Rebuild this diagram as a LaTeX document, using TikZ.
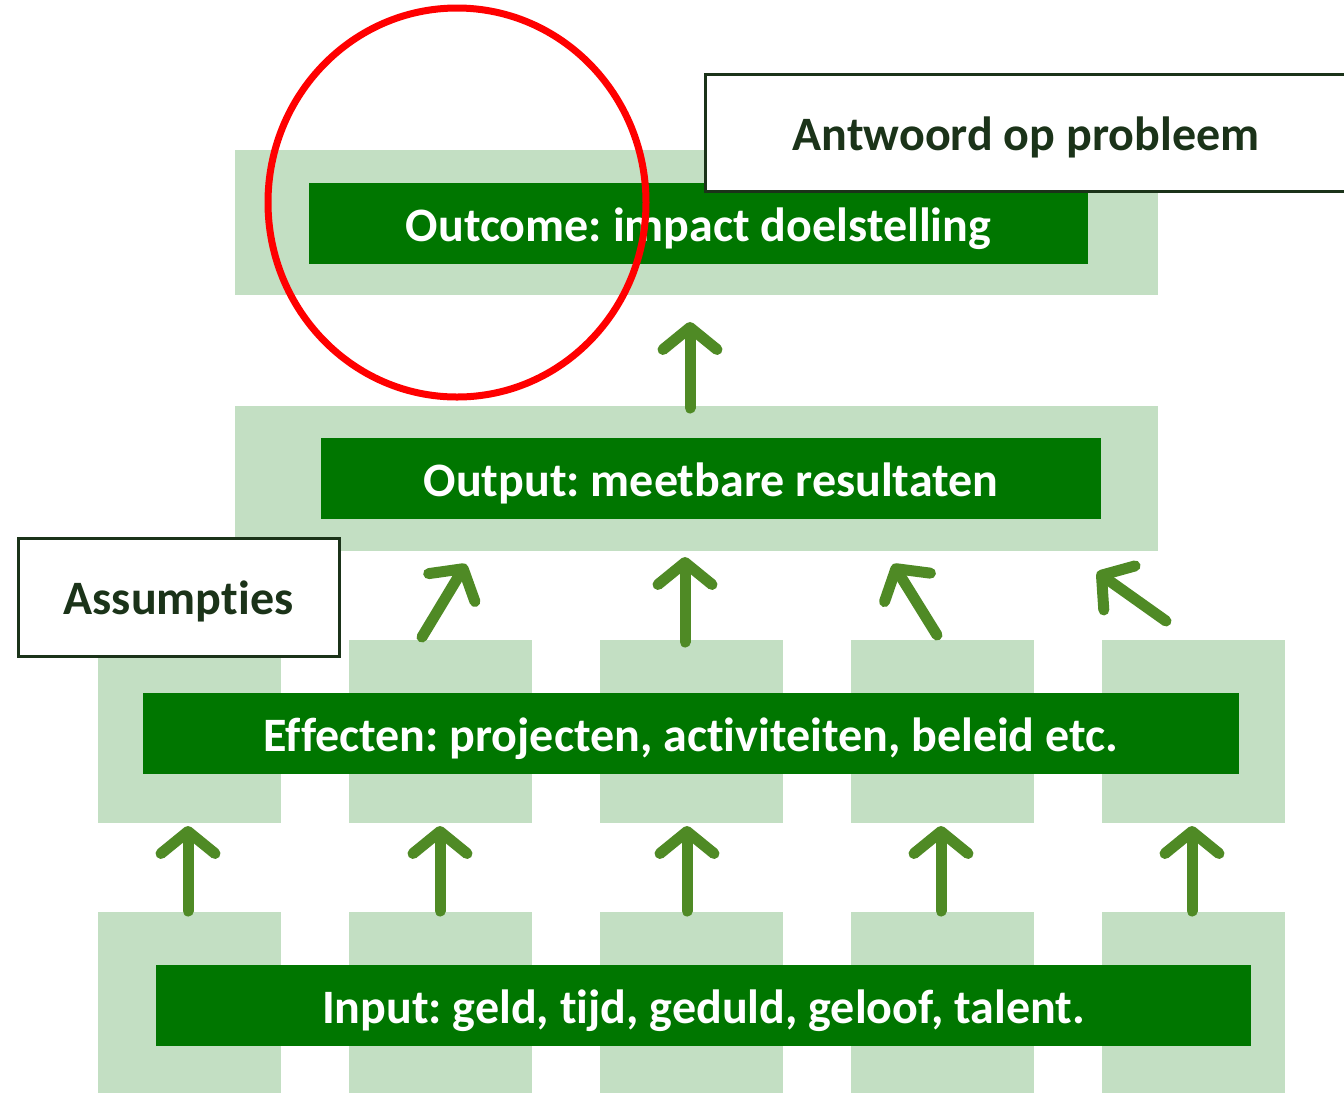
\documentclass[tikz,border=0pt]{standalone}
\usepackage{fontspec}
\setmainfont{Carlito}[Ligatures=NoCommon]
\frenchspacing
\usetikzlibrary{arrows.meta,shapes.geometric}
\definecolor{lightg}{HTML}{C3DFC3}
\definecolor{darkg}{HTML}{007600}
\definecolor{arrowg}{HTML}{4F8A25}
\definecolor{boxtext}{HTML}{1B3319}
\tikzset{
  bg/.style={fill=lightg, draw=none, inner sep=0pt},
  bar/.style={fill=darkg, draw=none, inner sep=0pt, minimum height=40.5pt, text height=20pt, text depth=2.5pt, text=white, font=\bfseries\fontsize{24}{26}\selectfont},
  labelbox/.style={fill=white, draw=boxtext, line width=1.5pt, inner sep=0pt, text height=20pt, text depth=2.5pt, text=boxtext, font=\bfseries\fontsize{24}{26}\selectfont},
  greenarrow/.style={draw=arrowg, line width=5.5pt, line cap=round, line join=round, -{Straight Barb[length=11pt, width=27pt, round]}},
}
\begin{document}
\begin{tikzpicture}[x=0.5pt, y=-0.5pt]
\useasboundingbox (0,0) rectangle (1344,1094);
\clip (0,0) rectangle (1344,1094);
% light backgrounds
\node[bg, minimum width=461.5pt, minimum height=72.5pt] (bgtop) at (696.5,222.5) {};
\node[bg, minimum width=461.5pt, minimum height=72.5pt] (bgmid) at (696.5,478.5) {};
\foreach \i/\x in {1/189.5,2/440.5,3/691.5,4/942.5,5/1193.5}{
  \node[bg, minimum width=91.5pt, minimum height=91.5pt] (bge\i) at (\x,731.5) {};
  \node[bg, minimum width=91.5pt, minimum height=90.5pt] (bgi\i) at (\x,1002.5) {};
}
% dark bars
\node[bar, minimum width=389.5pt] (outcome) at (698.5,223.5) {Outcome: impact doelstelling};
\node[bar, minimum width=390pt] (output) at (711,478.5) {Output: meetbare resultaten};
\node[bar, minimum width=548pt] (effecten) at (691,733.5) {Effecten: projecten, activiteiten, beleid etc.};
\node[bar, minimum width=547.5pt] (input) at (703.5,1005.5) {Input: geld, tijd, geduld, geloof, talent.};
% label boxes
\node[labelbox, minimum width=321pt, minimum height=58.5pt] (antwoord) at (1026,132.5) {Antwoord op probleem};
\node[labelbox, minimum width=160.5pt, minimum height=59pt] (assumpties) at (178.5,597) {Assumpties};
% red circle
\node[ellipse, draw=red, line width=3.5pt, inner sep=0pt, minimum width=189pt, minimum height=194.5pt] (circ) at (457,202.5) {};
% arrows
\coordinate (t0) at (690,408); \coordinate (h0) at (690,322);
\draw[greenarrow] (t0) -- (h0);
\coordinate (t1) at (422,637); \coordinate (h1) at (466,564);
\coordinate (t2) at (685,642); \coordinate (h2) at (685,557);
\coordinate (t3) at (937,635); \coordinate (h3) at (893,564);
\coordinate (t4) at (1166,621); \coordinate (h4) at (1097,572);
\foreach \i in {1,2,3,4}{ \draw[greenarrow] (t\i) -- (h\i); }
\foreach \i/\x in {1/188,2/440,3/687,4/941,5/1192}{
  \coordinate (bt\i) at (\x,911); \coordinate (bh\i) at (\x,826);
  \draw[greenarrow] (bt\i) -- (bh\i);
}
\end{tikzpicture}
\end{document}
